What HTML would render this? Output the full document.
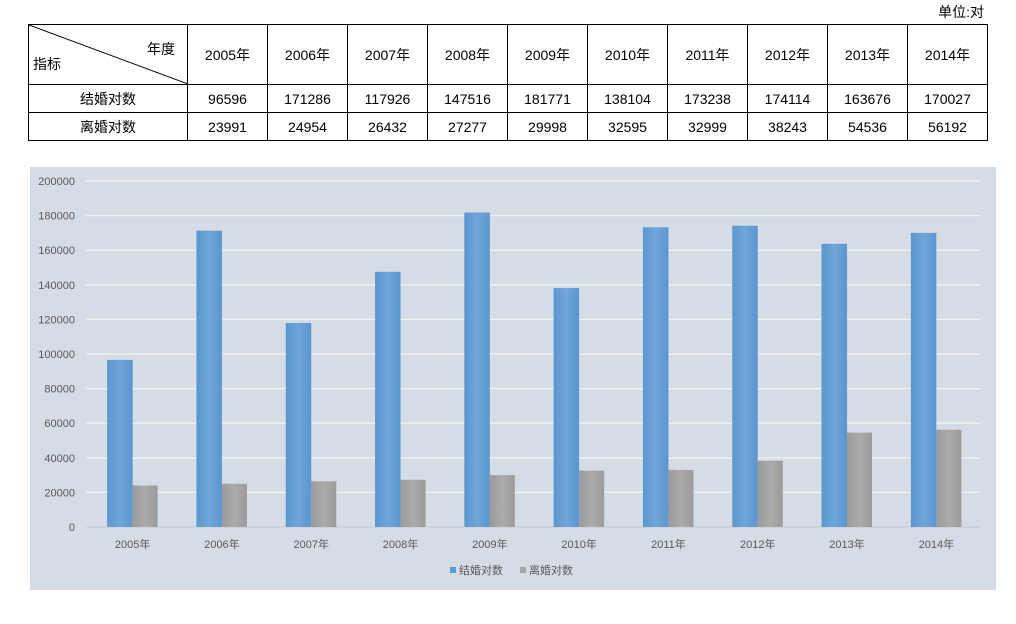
<!DOCTYPE html>
<html><head><meta charset="utf-8"><style>
body{margin:0;width:1016px;height:624px;background:#fff;font-family:"Liberation Sans","Noto Sans CJK SC",sans-serif;position:relative;overflow:hidden}
table{position:absolute;left:28px;top:24px;border-collapse:collapse;font-size:14px;color:#000}
td{border:1px solid #000;text-align:center;padding:0;width:79px;height:27px}
td.h{height:59px}
td.first{width:158px}
#unit{position:absolute;right:32px;top:2px;font-size:14px}
#chart{position:absolute;left:30px;top:167px}
</style></head><body>
<div id="unit">单位:对</div>
<table>
<tr><td class="h first" style="position:relative">
<svg width="159" height="59" style="position:absolute;left:0;top:0"><line x1="0" y1="0" x2="159" y2="59" stroke="#000" stroke-width="1"/></svg>
<span style="position:absolute;right:12px;top:14px">年度</span><span style="position:absolute;left:4px;bottom:10px">指标</span></td>
<td class="h">2005年</td><td class="h">2006年</td><td class="h">2007年</td><td class="h">2008年</td><td class="h">2009年</td><td class="h">2010年</td><td class="h">2011年</td><td class="h">2012年</td><td class="h">2013年</td><td class="h">2014年</td></tr>
<tr><td class="first">结婚对数</td><td>96596</td><td>171286</td><td>117926</td><td>147516</td><td>181771</td><td>138104</td><td>173238</td><td>174114</td><td>163676</td><td>170027</td></tr>
<tr><td class="first">离婚对数</td><td>23991</td><td>24954</td><td>26432</td><td>27277</td><td>29998</td><td>32595</td><td>32999</td><td>38243</td><td>54536</td><td>56192</td></tr>
</table>
<svg id="chart" width="966" height="423">
<defs>
<linearGradient id="gb" x1="0" x2="1"><stop offset="0" stop-color="#5b96cf"/><stop offset="0.5" stop-color="#6fa6da"/><stop offset="1" stop-color="#5b96cf"/></linearGradient>
<linearGradient id="gg" x1="0" x2="1"><stop offset="0" stop-color="#9b9b9b"/><stop offset="0.5" stop-color="#ababab"/><stop offset="1" stop-color="#9b9b9b"/></linearGradient>
</defs>
<rect width="966" height="423" fill="#d6dce5"/>
<g id="g"></g>
</svg>
<script>
const categories=["2005年","2006年","2007年","2008年","2009年","2010年","2011年","2012年","2013年","2014年"];
const marriages=[96596,171286,117926,147516,181771,138104,173238,174114,163676,170027];
const divorces=[23991,24954,26432,27277,29998,32595,32999,38243,54536,56192];
const yTicks=[0,20000,40000,60000,80000,100000,120000,140000,160000,180000,200000];
const seriesNames=["结婚对数","离婚对数"];
const NS="http://www.w3.org/2000/svg";
const g=document.getElementById('g');
const x0=58,step=89.3,y0=360,yTop=14,ymax=200000;
const y=v=>y0-(y0-yTop)*v/ymax;
const cx=i=>x0+(i+0.5)*step;
function mk(t,a,p){const e=document.createElementNS(NS,t);for(const k in a)e.setAttribute(k,a[k]);(p||g).appendChild(e);return e;}
yTicks.forEach(v=>{
 const l=mk('line',{x1:x0-2,x2:950,y1:y(v),y2:y(v),stroke:v?'#f2f2f2':'#c8cdd5','stroke-width':1.3});
 
 
 const t=mk('text',{x:45,y:y(v)+4,'text-anchor':'end','font-size':11,fill:'#595959'});t.textContent=v;
 
 
});
categories.forEach((c,i)=>{
 const b=mk('rect',{x:cx(i)-25.5,y:y(marriages[i]),width:25.5,height:y0-y(marriages[i]),fill:'url(#gb)'});
 
 
 const d=mk('rect',{x:cx(i),y:y(divorces[i]),width:25,height:y0-y(divorces[i]),fill:'url(#gg)'});
 
 
 const t=mk('text',{x:cx(i),y:381,'text-anchor':'middle','font-size':11,fill:'#595959'});t.textContent=c;
 
 
});
[[420,'#5b9bd5'],[490,'#a5a5a5']].forEach((p,k)=>{
 const s=mk('rect',{x:p[0],y:400,width:6,height:6,fill:p[1]});
 
 
 const t=mk('text',{x:p[0]+9,y:407,'font-size':11,fill:'#595959'});t.textContent=seriesNames[k];
 
 
});
</script>
</body></html>
